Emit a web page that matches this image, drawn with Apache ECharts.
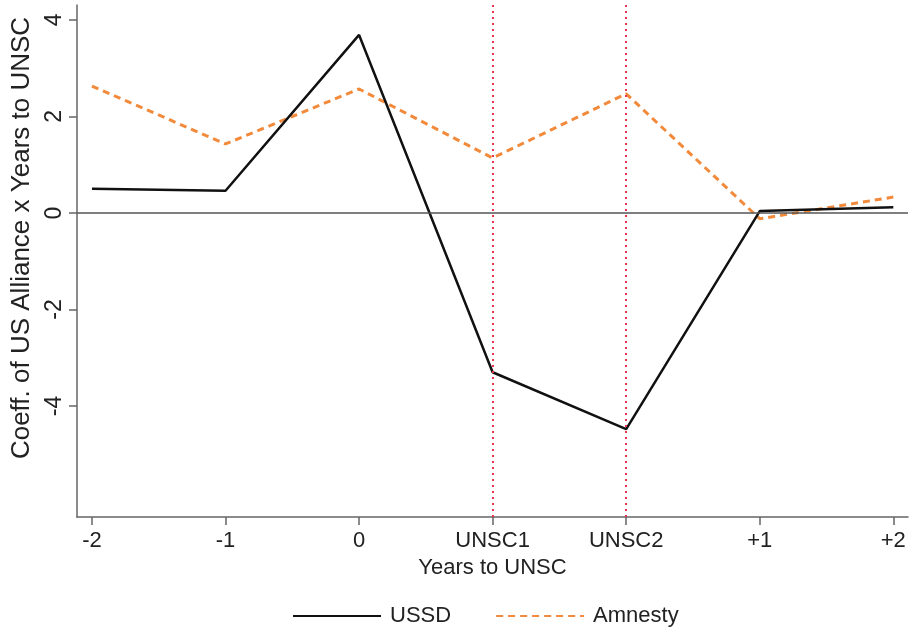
<!DOCTYPE html>
<html>
<head>
<meta charset="utf-8">
<script src="https://cdn.jsdelivr.net/npm/echarts@6/dist/echarts.min.js"></script>
<style>
  html, body { margin: 0; padding: 0; background: #fff; }
  #chart { width: 910px; height: 634px; }
</style>
</head>
<body>
<div id="chart"></div>
<script>
// 类目与数据
var categories = ['-2', '-1', '0', 'UNSC1', 'UNSC2', '+1', '+2'];
var ussd = [0.50, 0.46, 3.69, -3.30, -4.48, 0.04, 0.12];
var amnesty = [2.63, 1.43, 2.57, 1.14, 2.47, -0.12, 0.33];
var yTicks = [-4, -2, 0, 2, 4];
var unscMarks = [3, 4];   // UNSC1, UNSC2 的位置

function toPairs(arr) {
    var out = [];
    for (var i = 0; i < arr.length; i++) {
        out.push([i, arr[i]]);
    }
    return out;
}

var xIdx = [];
for (var k = 0; k < categories.length; k++) {
    xIdx.push(k);
}

var font = '"Liberation Sans", Arial, sans-serif';
var myChart = echarts.init(document.getElementById('chart'));

var option = {
    animation: false,
    grid: { left: 77, right: 2, top: 5, bottom: 117, outerBoundsMode: 'none', containLabel: false },
    xAxis: {
        type: 'value',
        min: -0.112,
        max: 6.11,
        name: 'Years to UNSC',
        nameLocation: 'middle',
        nameGap: 40,
        nameTextStyle: { color: '#222', fontSize: 22, fontFamily: font },
        splitLine: { show: false },
        axisLine: { show: true, onZero: false, lineStyle: { color: '#666', width: 1.5 } },
        axisTick: { show: true, length: 8, customValues: xIdx, lineStyle: { color: '#666', width: 1.5 } },
        axisLabel: {
            customValues: xIdx,
            color: '#222', fontSize: 22, fontFamily: font, margin: 13,
            formatter: function (v) { return categories[Math.round(v)]; }
        }
    },
    yAxis: {
        type: 'value',
        min: -6.3,
        max: 4.31,
        name: 'Coeff. of US Alliance x Years to UNSC',
        nameLocation: 'middle',
        nameGap: 37,
        nameTextStyle: { color: '#222', fontSize: 26, fontFamily: font, padding: [0, 0, 0, 46] },
        splitLine: { show: false },
        axisLine: { show: true, onZero: false, lineStyle: { color: '#666', width: 1.5 } },
        axisTick: { show: true, length: 8, customValues: yTicks, lineStyle: { color: '#666', width: 1.5 } },
        axisLabel: {
            customValues: yTicks,
            rotate: 90,
            color: '#222', fontSize: 23, fontFamily: font, margin: 11
        }
    },
    legend: {
        bottom: 2,
        left: 287,
        itemWidth: 88,
        itemHeight: 14,
        itemGap: 44,
        itemStyle: { opacity: 0 },
        textStyle: { color: '#222', fontSize: 22, fontFamily: font, padding: [0, 0, 0, 4] },
        data: ['USSD', 'Amnesty']
    },
    series: [
        {
            name: 'USSD',
            type: 'line',
            symbol: 'none',
            data: toPairs(ussd),
            lineStyle: { color: '#111', width: 2.5 },
            itemStyle: { color: '#111' },
            z: 4,
            markLine: {
                silent: true,
                symbol: 'none',
                label: { show: false },
                data: [
                    { yAxis: 0, lineStyle: { color: '#555', width: 1.5, type: 'solid' } }
                ]
            }
        },
        {
            name: 'Amnesty',
            type: 'line',
            symbol: 'none',
            data: toPairs(amnesty),
            lineStyle: { color: '#f28a3c', width: 3, type: [7, 5] },
            itemStyle: { color: '#f28a3c' },
            z: 3,
            markLine: {
                silent: true,
                symbol: 'none',
                label: { show: false },
                data: [
                    { xAxis: unscMarks[0], lineStyle: { color: '#e8344e', width: 2, type: [2, 4] } },
                    { xAxis: unscMarks[1], lineStyle: { color: '#e8344e', width: 2, type: [2, 4] } }
                ]
            }
        }
    ]
};

myChart.setOption(option);
</script>
</body>
</html>
